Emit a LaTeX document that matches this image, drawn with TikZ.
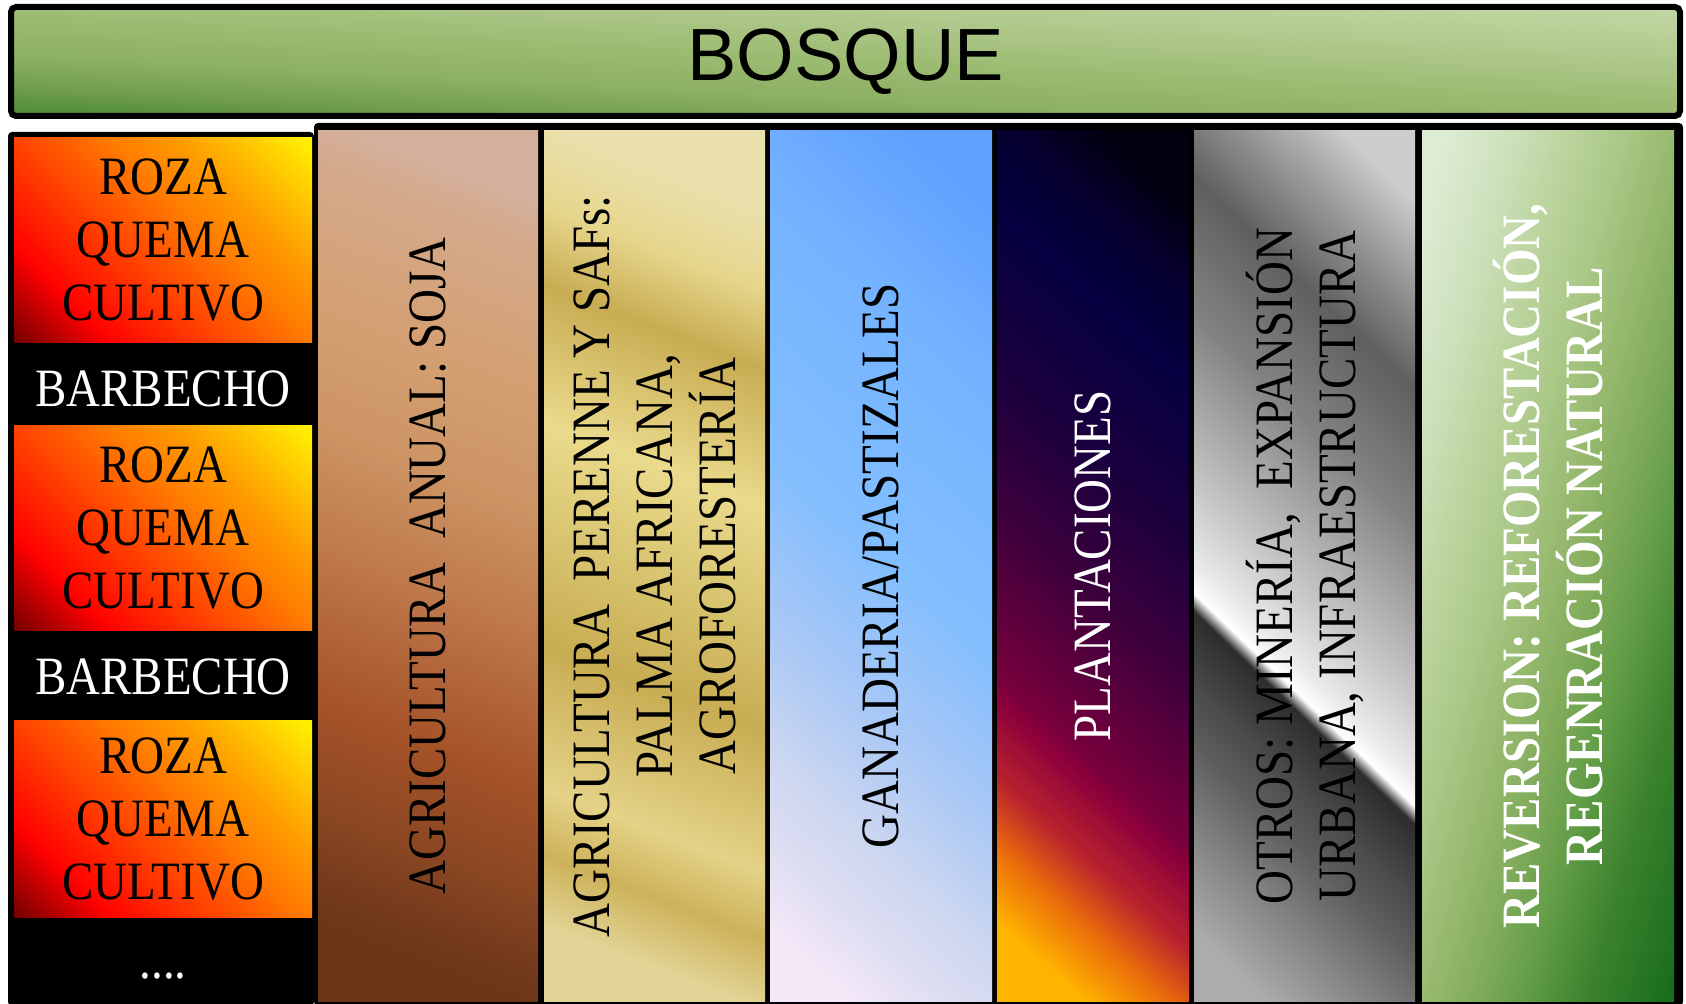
\documentclass[tikz,border=0pt]{standalone}
\usepackage{fontspec}
\setmainfont[FakeStretch=0.87]{Liberation Serif}
\newfontfamily\bosquefont{Liberation Sans}
\usepackage{tikz}

\definecolor{rzA}{RGB}{110,0,0}
\definecolor{rzB}{RGB}{180,0,0}
\definecolor{rzC}{RGB}{255,0,0}
\definecolor{rzD}{RGB}{255,40,0}
\definecolor{rzE}{RGB}{255,70,0}
\definecolor{rzF}{RGB}{255,95,0}
\definecolor{rzG}{RGB}{255,125,0}
\definecolor{rzH}{RGB}{255,155,0}
\definecolor{rzI}{RGB}{255,195,0}
\definecolor{rzJ}{RGB}{255,238,0}
\pgfdeclareverticalshading{roza}{100bp}{color(0bp)=(rzA); color(14bp)=(rzA); color(21bp)=(rzB); color(28bp)=(rzC); color(37bp)=(rzD); color(44bp)=(rzE); color(50bp)=(rzF); color(57bp)=(rzG); color(66bp)=(rzH); color(75bp)=(rzI); color(84bp)=(rzJ); color(100bp)=(rzJ)}

\definecolor{bsA}{RGB}{40,118,32}
\definecolor{bsB}{RGB}{65,132,48}
\definecolor{bsC}{RGB}{88,146,62}
\definecolor{bsD}{RGB}{112,156,77}
\definecolor{bsE}{RGB}{140,176,100}
\definecolor{bsF}{RGB}{155,187,113}
\definecolor{bsG}{RGB}{172,198,135}
\definecolor{bsH}{RGB}{187,210,155}
\definecolor{bsI}{RGB}{198,218,172}
\definecolor{bsJ}{RGB}{215,228,195}
\pgfdeclareverticalshading{bosque}{100bp}{color(0bp)=(bsA); color(6.6bp)=(bsA); color(17bp)=(bsB); color(27bp)=(bsC); color(31bp)=(bsD); color(40bp)=(bsE); color(50bp)=(bsF); color(60bp)=(bsG); color(71bp)=(bsH); color(80bp)=(bsI); color(93.4bp)=(bsJ); color(100bp)=(bsJ)}

\definecolor{anA}{RGB}{108,54,24}
\definecolor{anB}{RGB}{115,57,27}
\definecolor{anC}{RGB}{140,72,35}
\definecolor{anD}{RGB}{165,82,40}
\definecolor{anE}{RGB}{190,120,75}
\definecolor{anF}{RGB}{205,148,100}
\definecolor{anG}{RGB}{212,160,115}
\definecolor{anH}{RGB}{212,170,140}
\definecolor{anI}{RGB}{212,175,155}
\pgfdeclareverticalshading{anual}{100bp}{color(0bp)=(anA); color(22.6bp)=(anA); color(25bp)=(anB); color(30.9bp)=(anC); color(37.75bp)=(anD); color(48.1bp)=(anE); color(56.7bp)=(anF); color(65.35bp)=(anG); color(75bp)=(anH); color(77.4bp)=(anI); color(100bp)=(anI)}

\definecolor{orA}{RGB}{226,212,150}
\definecolor{orB}{RGB}{205,178,90}
\definecolor{orC}{RGB}{228,210,135}
\definecolor{orD}{RGB}{200,172,82}
\definecolor{orE}{RGB}{215,195,110}
\definecolor{orF}{RGB}{234,218,140}
\definecolor{orG}{RGB}{230,214,140}
\definecolor{orH}{RGB}{232,220,160}
\definecolor{orI}{RGB}{234,224,172}
\pgfdeclareverticalshading{oro}{100bp}{color(0bp)=(orA); color(22.6bp)=(orA); color(27.4bp)=(orB); color(31.95bp)=(orC); color(41.7bp)=(orD); color(49bp)=(orE); color(56.9bp)=(orF); color(66.3bp)=(orD); color(71.7bp)=(orG); color(75bp)=(orH); color(77.4bp)=(orI); color(100bp)=(orI)}

\definecolor{ciA}{RGB}{245,232,248}
\definecolor{ciB}{RGB}{222,222,242}
\definecolor{ciC}{RGB}{205,215,240}
\definecolor{ciD}{RGB}{170,200,245}
\definecolor{ciE}{RGB}{130,190,255}
\definecolor{ciF}{RGB}{115,178,255}
\definecolor{ciG}{RGB}{105,168,255}
\definecolor{ciH}{RGB}{95,160,255}
\pgfdeclareverticalshading{cielo}{100bp}{color(0bp)=(ciA); color(19.25bp)=(ciA); color(25bp)=(ciB); color(30.8bp)=(ciC); color(39.5bp)=(ciD); color(51bp)=(ciE); color(69.25bp)=(ciF); color(75bp)=(ciG); color(80.75bp)=(ciH); color(100bp)=(ciH)}

\definecolor{noA}{RGB}{255,180,0}
\definecolor{noB}{RGB}{235,110,10}
\definecolor{noC}{RGB}{185,35,45}
\definecolor{noD}{RGB}{140,0,60}
\definecolor{noE}{RGB}{120,0,60}
\definecolor{noF}{RGB}{60,0,60}
\definecolor{noG}{RGB}{30,0,62}
\definecolor{noH}{RGB}{5,0,65}
\definecolor{noI}{RGB}{5,0,45}
\definecolor{noJ}{RGB}{0,0,15}
\pgfdeclareverticalshading{noche}{100bp}{color(0bp)=(noA); color(20bp)=(noA); color(25bp)=(noB); color(29.7bp)=(noC); color(35.2bp)=(noD); color(36.6bp)=(noE); color(48.1bp)=(noF); color(56.7bp)=(noG); color(68.2bp)=(noH); color(75bp)=(noI); color(80bp)=(noJ); color(100bp)=(noJ)}

\definecolor{crA}{RGB}{172,172,172}
\definecolor{crB}{RGB}{135,135,135}
\definecolor{crC}{RGB}{95,95,95}
\definecolor{crD}{RGB}{75,75,75}
\definecolor{crE}{RGB}{45,45,45}
\definecolor{crF}{RGB}{255,255,255}
\definecolor{crG}{RGB}{235,235,235}
\definecolor{crH}{RGB}{200,200,200}
\definecolor{crI}{RGB}{130,130,130}
\definecolor{crJ}{RGB}{150,150,150}
\definecolor{crK}{RGB}{205,205,205}
\pgfdeclareverticalshading{cromo}{100bp}{color(0bp)=(crA); color(18.9bp)=(crA); color(25bp)=(crB); color(31.1bp)=(crC); color(35bp)=(crD); color(40bp)=(crE); color(41.2bp)=(crF); color(43bp)=(crG); color(48.1bp)=(crH); color(59.6bp)=(crI); color(68.5bp)=(crC); color(75bp)=(crJ); color(81.1bp)=(crK); color(100bp)=(crK)}

\definecolor{hoA}{RGB}{25,110,30}
\definecolor{hoB}{RGB}{60,130,45}
\definecolor{hoC}{RGB}{100,158,72}
\definecolor{hoD}{RGB}{130,172,92}
\definecolor{hoE}{RGB}{152,186,112}
\definecolor{hoF}{RGB}{170,200,135}
\definecolor{hoG}{RGB}{188,212,158}
\definecolor{hoH}{RGB}{205,225,188}
\definecolor{hoI}{RGB}{222,236,212}
\pgfdeclareverticalshading{hoja}{100bp}{color(0bp)=(hoA); color(20bp)=(hoA); color(30bp)=(hoB); color(38bp)=(hoC); color(44bp)=(hoD); color(50bp)=(hoE); color(56bp)=(hoF); color(63bp)=(hoG); color(70bp)=(hoH); color(78bp)=(hoI); color(100bp)=(hoI)}

\begin{document}
\begin{tikzpicture}[x=0.5pt,y=-0.5pt]
\tikzset{every node/.style={inner sep=0pt, outer sep=0pt}}
\tikzset{txt/.style={font=\fontsize{27}{31.5}\selectfont, align=center}}
\tikzset{vtxt/.style={txt, rotate=90}}
\tikzset{caja/.style={txt, minimum width=149pt, shading=roza, shading angle=-45}}
\tikzset{col/.style={minimum height=435pt}}
\tikzset{marco/.style={fill=black, rounded corners=2pt}}
\useasboundingbox (0,0) rectangle (1686,1004);

\node[draw, line width=3pt, rounded corners=2.5pt, minimum width=834.5pt, minimum height=54.5pt,
  shading=bosque, shading angle=-3, font=\bosquefont\fontsize{37}{40}\selectfont] (B) at (845.5,61.5) {BOSQUE};

\node[marco, minimum width=153pt, minimum height=437pt] (L) at (161,569) {};
\node[caja, minimum height=102.5pt] (R1) at (163,240.5) {ROZA\\QUEMA\\CULTIVO};
\node[txt, text=white] (F1) at (163,389) {BARBECHO};
\node[caja, minimum height=102.5pt] (R2) at (163,528.5) {ROZA\\QUEMA\\CULTIVO};
\node[txt, text=white] (F2) at (163,677) {BARBECHO};
\node[caja, minimum height=98pt] (R3) at (163,819) {ROZA\\QUEMA\\CULTIVO};
\node[txt, text=white] (D) at (163,976) {....};

\node[marco, minimum width=684.5pt, minimum height=441.5pt] (M) at (998.5,564.5) {};
\node[col, minimum width=110pt, shading=anual, shading angle=-21] (C1) at (428,566) {};
\node[col, minimum width=110.5pt, shading=oro, shading angle=-21] (C2) at (654.5,566) {};
\node[col, minimum width=111pt, shading=cielo, shading angle=-42] (C3) at (881,566) {};
\node[col, minimum width=96pt, shading=noche, shading angle=-42] (C4) at (1093,566) {};
\node[col, minimum width=110.5pt, shading=cromo, shading angle=-44] (C5) at (1304.5,566) {};
\node[col, minimum width=126pt, shading=hoja, shading angle=74] (C6) at (1548,566) {};

\node[vtxt] (T1) at (C1) {AGRICULTURA~~ANUAL: SOJA};
\node[vtxt] (T2) at (C2) {AGRICULTURA~~PERENNE Y SAFs:\\PALMA AFRICANA,\\AGROFORESTERÍA};
\node[vtxt] (T3) at (C3) {GANADERIA/PASTIZALES};
\node[vtxt, text=white] (T4) at (C4) {PLANTACIONES};
\node[vtxt] (T5) at (C5) {OTROS: MINERÍA,~~EXPANSIÓN\\URBANA, INFRAESTRUCTURA};
\node[vtxt, text=white, font=\fontsize{27}{31.5}\selectfont\bfseries] (T6) at (C6) {REVERSION: REFORESTACIÓN,\\REGENRACIÓN NATURAL};
\end{tikzpicture}
\end{document}
